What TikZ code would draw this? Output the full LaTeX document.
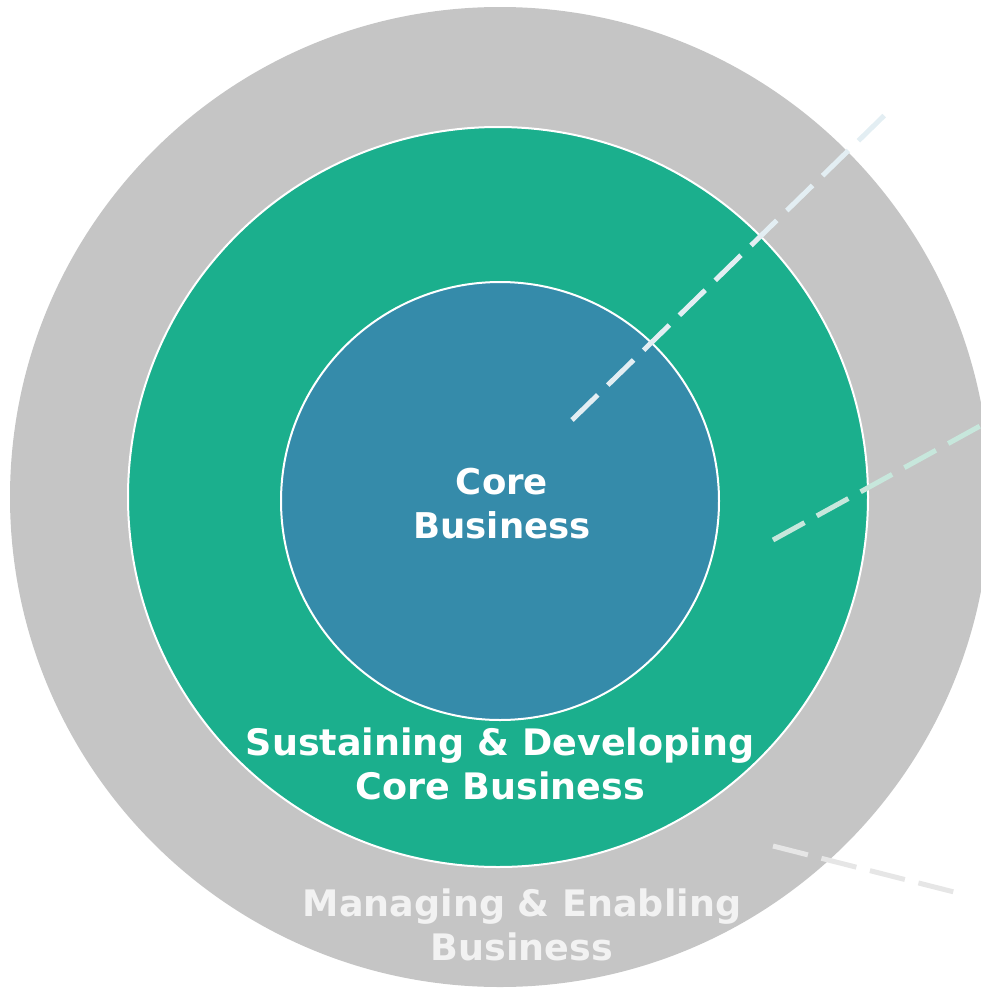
\documentclass[tikz,border=0pt]{standalone}
\usepackage{fontspec}
\setmainfont{DejaVu Sans}
\usepackage{tikz}
\usepackage{xcolor}
\usetikzlibrary{positioning}

\definecolor{ringgray}{HTML}{C5C5C5}
\definecolor{ringgreen}{HTML}{1BAF8D}
\definecolor{coreblue}{HTML}{358BAA}
\definecolor{dashblue}{HTML}{E3EEF3}
\definecolor{dashgreen}{HTML}{C7E7DC}
\definecolor{dashgray}{HTML}{E6E6E6}
\definecolor{labelgray}{HTML}{F2F2F2}

\tikzset{
	ring/.style={circle, inner sep=0pt, draw=white, line width=2pt},
	label/.style={align=center, inner sep=0pt, text=white,
		font=\bfseries\fontsize{36.5}{44}\selectfont},
	leader/.style={line width=5pt, dash pattern=on 36pt off 14pt}
}

\begin{document}
\begin{tikzpicture}[x=1pt,y=-1pt]
		\useasboundingbox (0,0) rectangle (981,996);
		\clip (0,0) rectangle (981,996);
		
		\node[ring, fill=ringgray, draw=none, minimum size=980pt] (outer) at (500,497) {};
		\node[ring, fill=ringgreen, minimum size=740pt] (middle) at (498,497) {};
		\node[ring, fill=coreblue, minimum size=438pt] (core) at (500,501) {};
		
		\coordinate (a1) at (572,420);
		\coordinate (a2) at (893,107);
		\coordinate (b1) at (773,540);
		\coordinate (b2) at (1000,415);
		\coordinate (c1) at (773,846);
		\coordinate (c2) at (958,893);
		
		\draw[leader, dashblue] (a1) -- (a2);
		\draw[leader, dashgreen] (b1) -- (b2);
		\draw[leader, dashgray] (c1) -- (c2);
		
		\node[label, font=\bfseries\fontsize{35.5}{44}\selectfont] (corelabel) at (502,504) {Core\\Business};
		\node[label] (sustlabel) at (500,764) {Sustaining \& Developing\\Core Business};
		\node[label, text=labelgray] (managelabel) at (522,925) {Managing \& Enabling\\Business};
		
	\end{tikzpicture}
\end{document}
